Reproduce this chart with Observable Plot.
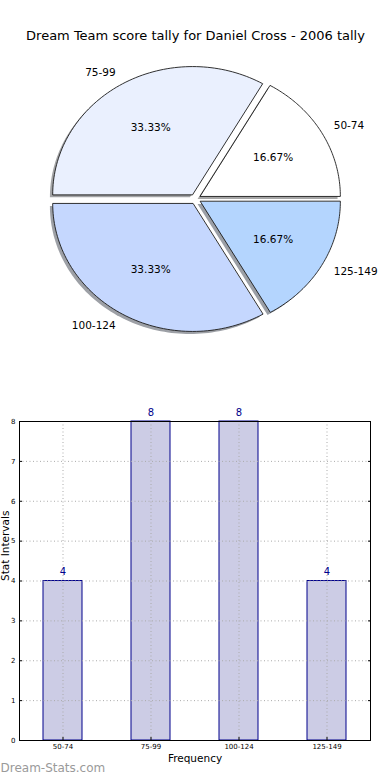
<!DOCTYPE html>
<html><head><meta charset="utf-8">
<script src="https://cdn.jsdelivr.net/npm/d3@7"></script>
<script src="https://cdn.jsdelivr.net/npm/@observablehq/plot@0.6"></script>
<style>
body{margin:0;background:#fff;font-family:"DejaVu Sans",sans-serif;}
#wrap{position:relative;width:390px;height:780px;overflow:hidden;}
#pie{position:absolute;left:0;top:0;}
#bar{position:absolute;left:0;top:380px;}
svg{font-family:"DejaVu Sans",sans-serif;}
</style></head>
<body><div id="wrap"><div id="pie"></div><div id="bar"></div></div>
<script>
const title = "Dream Team score tally for Daniel Cross - 2006 tally";
const categories = ["50-74","75-99","100-124","125-149"];
const counts = [4, 8, 8, 4];
const pieColors = ["#ffffff","#eaf0fe","#c5d7fe","#b4d5fe"];
const yTicks = [0,1,2,3,4,5,6,7,8];
const xLabel = "Frequency";
const yLabel = "Stat Intervals";
const watermark = "Dream-Stats.com";

// ---- pie geometry (unit circle, stretched by scales) ----
const explode = 0.04, shadowOff = -0.02, labelDist = 1.1, pctDist = 0.6;
const total = d3.sum(counts);
let acc = 0;
const slices = categories.map((c, i) => {
  const a0 = acc / total * 2 * Math.PI;
  acc += counts[i];
  const a1 = acc / total * 2 * Math.PI;
  const mid = (a0 + a1) / 2;
  return {cat: c, i, a0, a1, mid, ox: explode * Math.cos(mid), oy: explode * Math.sin(mid),
          pct: (counts[i] / total * 100).toFixed(2) + "%", color: pieColors[i]};
});
function shade(hex){
  const c = d3.rgb(hex);
  const f = v => Math.round(0.5 * 0.3 * v + 127.5);
  return d3.rgb(f(c.r), f(c.g), f(c.b)).formatHex();
}
const polys = [];
slices.forEach(s => {
  const n = 80;
  const pts = [[0,0]];
  for (let k = 0; k <= n; k++) {
    const a = s.a0 + (s.a1 - s.a0) * k / n;
    pts.push([Math.cos(a), Math.sin(a)]);
  }
  pts.forEach(([x,y]) => polys.push({key: "s" + s.i, x: x + s.ox + shadowOff, y: y + s.oy + shadowOff, fill: shade(s.color), stroke: "none"}));
  pts.forEach(([x,y]) => polys.push({key: "w" + s.i, x: x + s.ox, y: y + s.oy, fill: s.color, stroke: "#1a1a1a"}));
});
const labels = slices.map(s => ({
  text: s.cat,
  x: s.ox + labelDist * Math.cos(s.mid),
  y: s.oy + labelDist * Math.sin(s.mid),
  left: Math.cos(s.mid) > 0
}));
const pcts = slices.map(s => ({text: s.pct, x: s.ox + pctDist * Math.cos(s.mid), y: s.oy + pctDist * Math.sin(s.mid)}));

const pie = Plot.plot({
  width: 390, height: 360, margin: 0,
  x: {domain: [-1, 1], range: [55, 335], axis: null},
  y: {domain: [-1, 1], range: [326.5, 70.5], axis: null},
  color: {type: "identity"},
  style: {fontFamily: "DejaVu Sans, sans-serif", background: "white"},
  marks: [
    Plot.line(polys, {x: "x", y: "y", z: "key", fill: "fill", stroke: "stroke", strokeWidth: 0.9, curve: "linear-closed"}),
    Plot.text(labels.filter(d => d.left), {x: "x", y: "y", text: "text", textAnchor: "start", fontSize: 10.5, fill: "#000"}),
    Plot.text(labels.filter(d => !d.left), {x: "x", y: "y", text: "text", textAnchor: "end", fontSize: 10.5, fill: "#000"}),
    Plot.text(pcts, {x: "x", y: "y", text: "text", fontSize: 10.5, fill: "#000"}),
    Plot.text([title], {frameAnchor: "top", dy: 30, fontSize: 13, fill: "#000"})
  ]
});
document.getElementById("pie").appendChild(pie);

// ---- bar chart ----
const barData = categories.map((c, i) => ({cat: c, v: counts[i]}));
const bar = Plot.plot({
  width: 390, height: 400,
  marginTop: 41, marginBottom: 40, marginLeft: 19, marginRight: 20,
  x: {domain: categories, paddingInner: 0.555, paddingOuter: 0.26, label: null},
  y: {domain: [0, 8], label: null},
  style: {fontFamily: "DejaVu Sans, sans-serif", background: "white"},
  marks: [
    Plot.barY(barData, {x: "cat", y: "v", fill: "#ccccE5", stroke: "#00008b", strokeWidth: 1}),
    Plot.gridY(yTicks.slice(1, -1), {stroke: "#aaa", strokeOpacity: 1, strokeDasharray: "1,2.5"}),
    Plot.gridX(categories, {stroke: "#aaa", strokeOpacity: 1, strokeDasharray: "1,2.5"}),
    Plot.axisY(yTicks, {tickSize: -3, tickPadding: 7, fontSize: 7, label: null, color: "#000"}),
    Plot.axisY(yTicks, {anchor: "right", tickSize: -3, text: null, label: null, color: "#000"}),
    Plot.axisX({tickSize: -3, tickPadding: 7, fontSize: 7, label: null, color: "#000"}),
    Plot.frame({stroke: "#000", strokeWidth: 1}),
    Plot.text(barData, {x: "cat", y: "v", text: d => String(d.v), dy: -9, fontSize: 10, fill: "#00008b"}),
    Plot.text([xLabel], {frameAnchor: "bottom", dy: 21, fontSize: 10.5, fill: "#000"}),
    Plot.text([yLabel], {frameAnchor: "left", dx: -14, rotate: -90, fontSize: 10.5, fill: "#000"}),
    Plot.text([watermark], {frameAnchor: "bottom-left", dx: -19, dy: 31, textAnchor: "start", fontSize: 12, fill: "#9a9a9a"})
  ]
});
document.getElementById("bar").appendChild(bar);
</script></body></html>
